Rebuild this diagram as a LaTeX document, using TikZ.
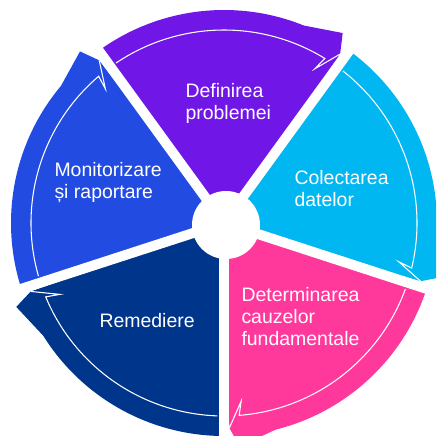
\documentclass[tikz,border=0pt]{standalone}
\usepackage{fontspec}
\setmainfont{Liberation Sans}
\definecolor{defcol}{RGB}{112,22,230}
\definecolor{colcol}{RGB}{0,183,241}
\definecolor{detcol}{RGB}{255,56,156}
\definecolor{remcol}{RGB}{0,53,140}
\definecolor{moncol}{RGB}{34,75,226}
\tikzset{every picture/.style={line width=0.75pt}}
\tikzset{
	gap line/.style={draw=white, line width=7.5pt},
	rim line/.style={draw=white, line width=0.8pt, line join=miter},
	step text/.style={text=white, font=\fontsize{14.6}{16.4}\selectfont, align=left, anchor=north west, inner sep=0pt}}

\begin{document}
\begin{tikzpicture}[x=0.75pt,y=0.75pt,yscale=-1,xscale=1]
	\useasboundingbox (0,0) rectangle (436,436);
	\clip (0,0) rectangle (436,436);

	\begin{scope}[shift={(224,223)}]
	%Shape: Sector [Definirea]
	\fill [defcol] (0,0) -- (-126:213) arc[start angle=-126, end angle=-68, radius=213] -- (-58:224) -- (-55.5:205) -- cycle ;
	\draw [rim line] (-124:193) arc[start angle=-124, end angle=-58.5, radius=193] -- (-59.5:179) -- (-55.5:205) ;
	%Shape: Sector [Colectarea]
	\fill [colcol] (0,0) -- (-54:213) arc[start angle=-54, end angle=4, radius=213] -- (14:224) -- (16.5:205) -- cycle ;
	\draw [rim line] (-52:193) arc[start angle=-52, end angle=13.5, radius=193] -- (12.5:179) -- (16.5:205) ;
	%Shape: Sector [Determinarea]
	\fill [detcol] (0,0) -- (18:213) arc[start angle=18, end angle=76, radius=213] -- (86:224) -- (88.5:205) -- cycle ;
	\draw [rim line] (20:193) arc[start angle=20, end angle=85.5, radius=193] -- (84.5:179) -- (88.5:205) ;
	%Shape: Sector [Remediere]
	\fill [remcol] (0,0) -- (90:213) arc[start angle=90, end angle=148, radius=213] -- (158:224) -- (160.5:205) -- cycle ;
	\draw [rim line] (92:193) arc[start angle=92, end angle=157.5, radius=193] -- (156.5:179) -- (160.5:205) ;
	%Shape: Sector [Monitorizare]
	\fill [moncol] (0,0) -- (162:213) arc[start angle=162, end angle=220, radius=213] -- (230:224) -- (232.5:205) -- cycle ;
	\draw [rim line] (164:193) arc[start angle=164, end angle=229.5, radius=193] -- (228.5:179) -- (232.5:205) ;

	%Straight Lines [gaps]
	\draw [gap line] (0,0) -- (-126:240) ;
	\draw [gap line] (0,0) -- (-54:240) ;
	\draw [gap line] (0,0) -- (18:240) ;
	\draw [gap line] (0,0) -- (90:240) ;
	\draw [gap line] (0,0) -- (162:240) ;
	\end{scope}

	%Shape: Circle [hub]
	\fill [white] (226,225) circle[radius=34] ;

	% Text Node
	\node [step text] (definire) at (185,83) {Definirea\\problemei};
	% Text Node
	\node [step text] (colectare) at (294,170) {Colectarea\\datelor};
	% Text Node
	\node [step text] (determinare) at (241,287) {Determinarea\\cauzelor\\fundamentale};
	% Text Node
	\node [step text] (remediere) at (99,313) {Remediere};
	% Text Node
	\node [step text] (monitorizare) at (54,162) {Monitorizare\\și raportare};

\end{tikzpicture}
\end{document}
